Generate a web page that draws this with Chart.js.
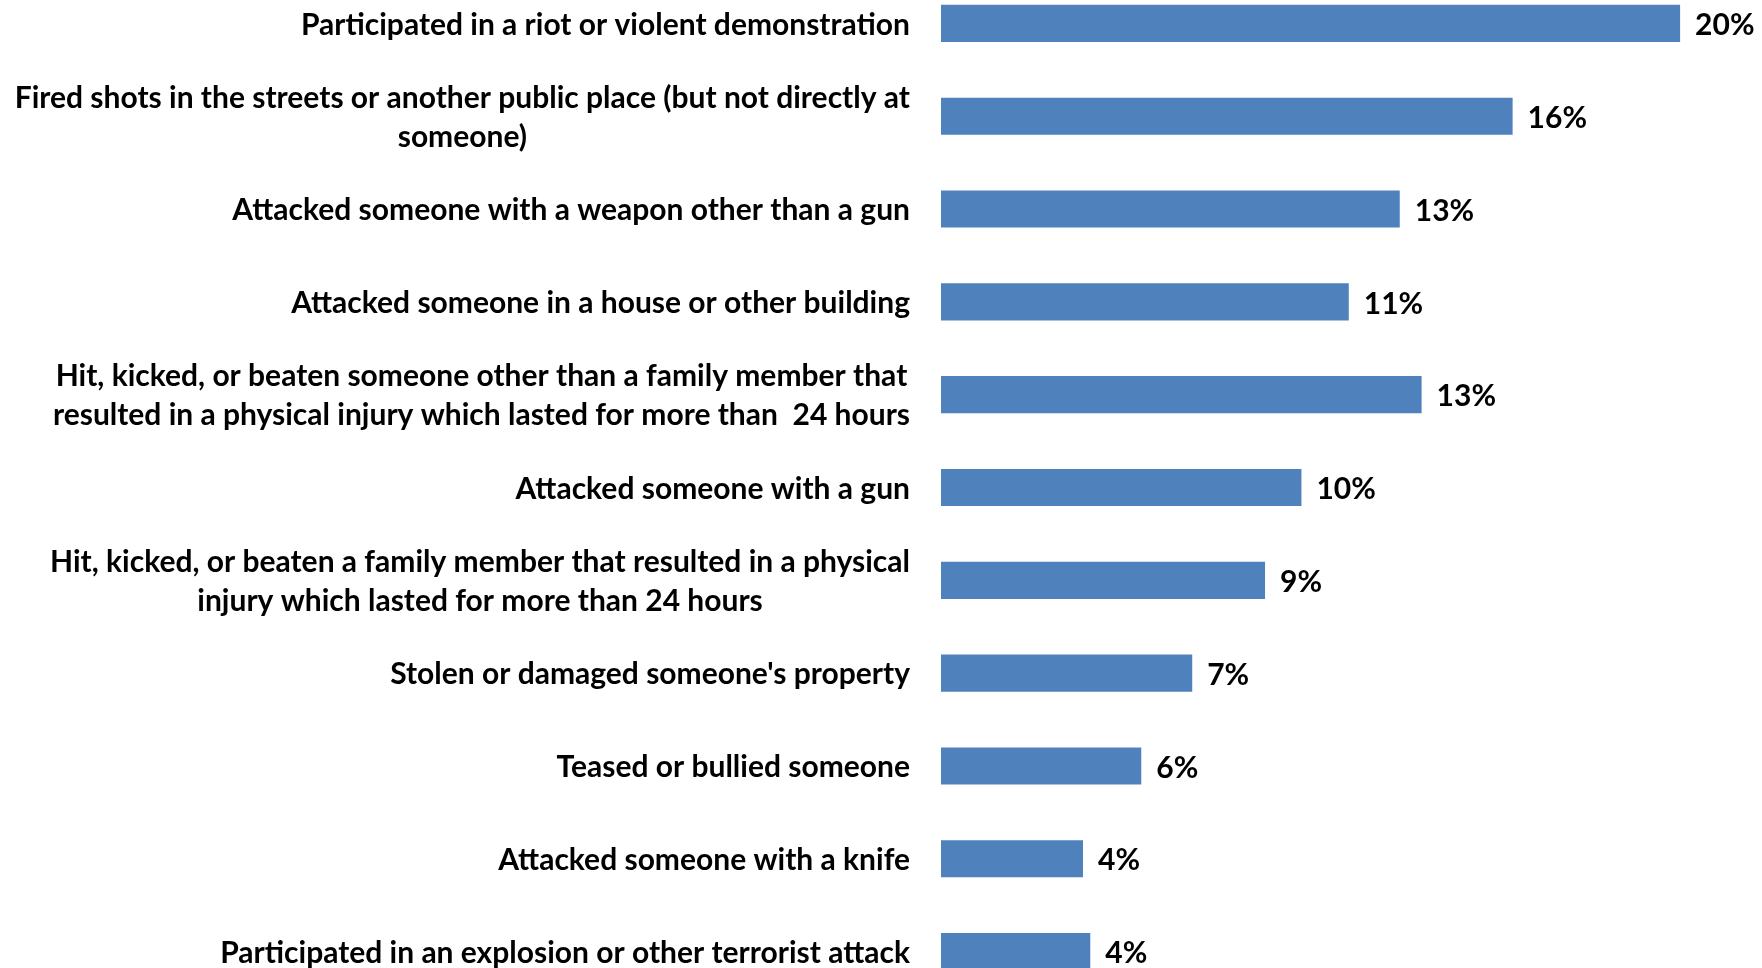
<!DOCTYPE html>
<html>
<head>
<meta charset="utf-8">
<script src="https://cdn.jsdelivr.net/npm/chart.js@4.4.1/dist/chart.umd.min.js"></script>
<style>
  html, body { margin: 0; padding: 0; background: #fff; overflow: hidden; }
  body { width: 1762px; height: 968px; position: relative; }
  #wrap { position: absolute; left: 0; top: -23px; width: 1762px; height: 1021px; }
</style>
</head>
<body>
<div id="wrap"><canvas id="chart"></canvas></div>
<script>
const categories = [
    'Participated in a riot or violent demonstration',
    ['Fired shots in the streets or another public place (but not directly at', 'someone)'],
    'Attacked someone with a weapon other than a gun',
    'Attacked someone in a house or other building',
    ['Hit, kicked, or beaten someone other than a family member that', 'resulted in a physical injury which lasted for more than  24 hours'],
    'Attacked someone with a gun',
    ['Hit, kicked, or beaten a family member that resulted in a physical', 'injury which lasted for more than 24 hours'],
    "Stolen or damaged someone's property",
    'Teased or bullied someone',
    'Attacked someone with a knife',
    'Participated in an explosion or other terrorist attack'
];
const percents = [20.3, 15.7, 12.6, 11.2, 13.2, 9.9, 8.9, 6.9, 5.5, 3.9, 4.1];

const FONT = 'bold 30px Lato, "Open Sans", sans-serif';
const LINE_H = 39;

// draws category labels (right aligned block, centered lines) and value labels
const labelPlugin = {
    id: 'labels',
    afterDatasetsDraw(chart) {
        const ctx = chart.ctx;
        const meta = chart.getDatasetMeta(0);
        ctx.save();
        ctx.font = FONT;
        ctx.fillStyle = '#000000';
        ctx.textBaseline = 'middle';
        meta.data.forEach((bar, i) => {
            // value label
            ctx.textAlign = 'left';
            ctx.fillText(Math.round(percents[i]) + '%', bar.x + 15, bar.y + 2);

            // category label
            const lines = Array.isArray(categories[i]) ? categories[i] : [categories[i]];
            const w = Math.max(...lines.map(l => ctx.measureText(l).width));
            const right = chart.chartArea.left - 31;
            const cx = right - w / 2;
            ctx.textAlign = 'center';
            lines.forEach((l, j) => {
                const y = bar.y + 1.5 + (j - (lines.length - 1) / 2) * LINE_H;
                ctx.fillText(l, cx, y);
            });
        });
        ctx.restore();
    }
};

const ctx = document.getElementById('chart').getContext('2d');
const myChart = new Chart(ctx, {
    type: 'bar',
    data: {
        labels: categories,
        datasets: [{
            data: percents,
            backgroundColor: '#4F81BD',
            borderWidth: 0,
            categoryPercentage: 1,
            barPercentage: 0.4
        }]
    },
    options: {
        indexAxis: 'y',
        responsive: true,
        maintainAspectRatio: false,
        animation: false,
        layout: { padding: { left: 941, right: 20, top: 0, bottom: 0 } },
        scales: {
            x: { display: false, min: 0, max: 22 },
            y: { display: false }
        },
        plugins: {
            legend: { display: false },
            tooltip: { enabled: false }
        }
    },
    plugins: [labelPlugin]
});
</script>
</body>
</html>
